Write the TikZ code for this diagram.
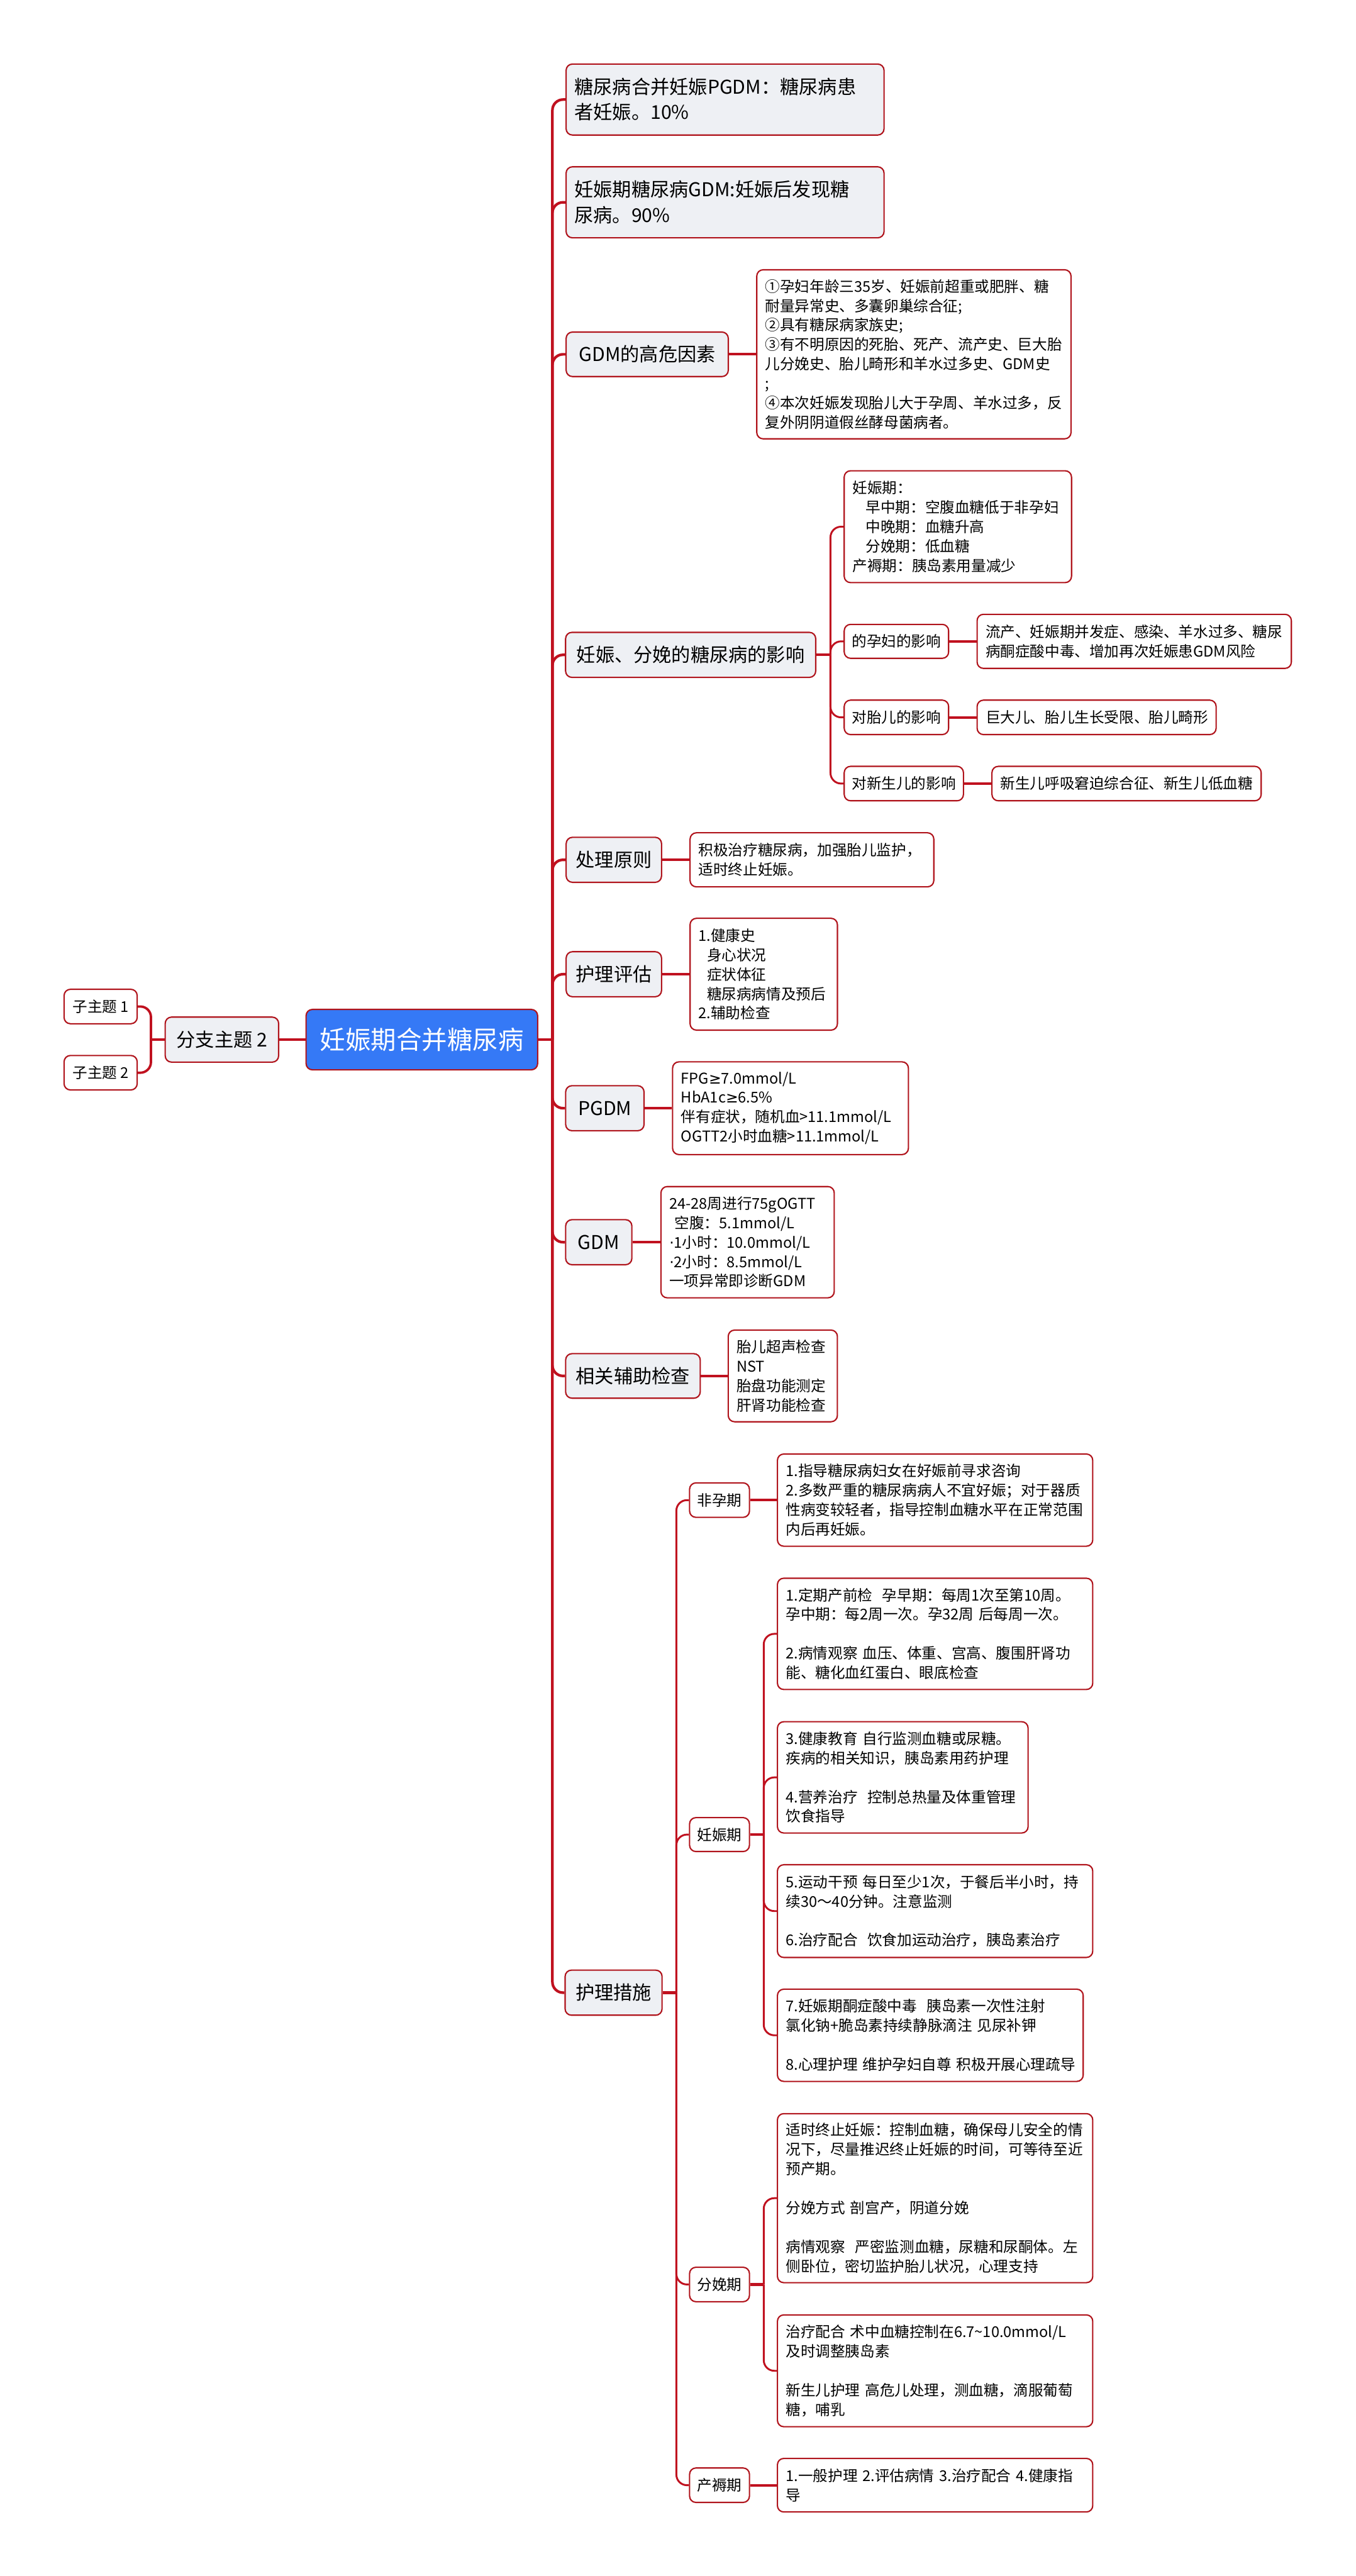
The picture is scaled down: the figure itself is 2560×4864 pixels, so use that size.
\documentclass[tikz,border=0pt]{standalone}
\usepackage{fontspec}
\setmainfont{Noto Sans CJK SC}
\newfontfamily\symfont{DejaVu Sans}
\newcommand{\mygeq}{{\symfont ≥}}
\newcommand{\mydot}{{\symfont ·}}
\definecolor{lnk}{HTML}{C0111F}
\definecolor{bdr}{HTML}{B0141C}
\definecolor{lvl}{HTML}{EEF0F4}
\definecolor{rootblue}{HTML}{3579F6}
\tikzset{
  tbox/.style={draw=bdr, line width=0.025cm, rounded corners=0.12cm, inner sep=0pt, inner xsep=0.16cm, fill=white, text=black},
  ttopic/.style={tbox, fill=lvl, font=\fontsize{10.2pt}{13.66pt}\selectfont, align=center},
  ttopicw/.style={tbox, fill=lvl, font=\fontsize{10.2pt}{13.66pt}\selectfont, align=left},
  tlab/.style={tbox, inner xsep=0.08cm, font=\fontsize{7.97pt}{10.44pt}\selectfont, align=center},
  tnote/.style={tbox, font=\fontsize{7.97pt}{10.44pt}\selectfont, align=left},
  troot/.style={tbox, fill=rootblue, text=white, font=\fontsize{13.66pt}{16pt}\selectfont, align=center},
  lk/.style={draw=lnk, line width=0.05cm},
  lks/.style={draw=lnk, line width=0.035cm, rounded corners=0.2cm},
  lkm/.style={draw=lnk, line width=0.045cm, rounded corners=0.2cm},
}
\begin{document}
\begin{tikzpicture}[x=0.01cm, y=-0.01cm]
\useasboundingbox[fill=white] (0,0) rectangle (2560,4864);

% root and left branch
\node[troot, minimum width=4.37cm, minimum height=1.14cm] (root) at (796.5,1963) {妊娠期合并糖尿病};
\node[ttopic, minimum width=2.14cm, minimum height=0.85cm] (branch) at (419,1963) {分支主题 2};
\node[tlab, font=\fontsize{7.97pt}{10pt}\selectfont, minimum width=1.38cm, minimum height=0.65cm] (sub1) at (190,1900.5) {子主题 1};
\node[tlab, font=\fontsize{7.97pt}{10pt}\selectfont, minimum width=1.38cm, minimum height=0.65cm] (sub2) at (190,2025.5) {子主题 2};

% level 1
\node[ttopicw, text width=5.68cm, minimum height=1.34cm] (n1) at (1369,188) {糖尿病合并妊娠PGDM：糖尿病患\\者妊娠。10\%};
\node[ttopicw, text width=5.68cm, minimum height=1.34cm] (n2) at (1369,382) {妊娠期糖尿病GDM:妊娠后发现糖\\尿病。90\%};
\node[ttopic, minimum width=3.06cm, minimum height=0.84cm] (n3) at (1222,669) {GDM的高危因素};
\node[ttopic, minimum width=4.72cm, minimum height=0.85cm] (n4) at (1304,1236.5) {妊娠、分娩的糖尿病的影响};
\node[ttopic, minimum width=1.80cm, minimum height=0.85cm] (n5) at (1159,1623.5) {处理原则};
\node[ttopic, minimum width=1.80cm, minimum height=0.85cm] (n6) at (1159,1839.5) {护理评估};
\node[ttopic, minimum width=1.48cm, minimum height=0.85cm] (n7) at (1142,2092.5) {PGDM};
\node[ttopic, minimum width=1.25cm, minimum height=0.85cm] (n8) at (1130.5,2345.5) {GDM};
\node[ttopic, minimum width=2.54cm, minimum height=0.84cm] (n9) at (1195,2598) {相关辅助检查};
\node[ttopic, minimum width=1.83cm, minimum height=0.85cm] (n10) at (1158.5,3762.5) {护理措施};

% children of level 1
\node[tnote, text width=5.61cm, minimum height=3.19cm] (c3) at (1725.5,669) {①孕妇年龄三35岁、妊娠前超重或肥胖、糖\\耐量异常史、多囊卵巢综合征;\\②具有糖尿病家族史;\\③有不明原因的死胎、死产、流产史、巨大胎\\儿分娩史、胎儿畸形和羊水过多史、GDM史\\;\\④本次妊娠发现胎儿大于孕周、羊水过多，反\\复外阴阴道假丝酵母菌病者。};

\node[tnote, text width=3.97cm, minimum height=2.11cm] (c4a) at (1808.5,994.5) {妊娠期：\\\hspace*{0.25cm}早中期：空腹血糖低于非孕妇\\\hspace*{0.25cm}中晚期：血糖升高\\\hspace*{0.25cm}分娩期：低血糖\\产褥期：胰岛素用量减少};
\node[tlab, minimum width=1.97cm, minimum height=0.64cm] (c4b) at (1692.5,1211) {的孕妇的影响};
\node[tnote, text width=5.61cm, minimum height=1.02cm] (c4bc) at (2141.5,1211) {流产、妊娠期并发症、感染、羊水过多、糖尿\\病酮症酸中毒、增加再次妊娠患GDM风险};
\node[tlab, minimum width=1.97cm, minimum height=0.65cm] (c4c) at (1692.5,1354.5) {对胎儿的影响};
\node[tnote, text width=4.19cm, minimum height=0.65cm] (c4cc) at (2070.5,1354.5) {巨大儿、胎儿生长受限、胎儿畸形};
\node[tlab, minimum width=2.25cm, minimum height=0.65cm] (c4d) at (1706.5,1479.5) {对新生儿的影响};
\node[tnote, text width=4.76cm, minimum height=0.65cm] (c4dc) at (2127,1479.5) {新生儿呼吸窘迫综合征、新生儿低血糖};

\node[tnote, text width=4.28cm, minimum height=1.02cm] (c5) at (1533,1623.5) {积极治疗糖尿病，加强胎儿监护，\\适时终止妊娠。};
\node[tnote, text width=2.46cm, minimum height=2.11cm] (c6) at (1442,1839.5) {1.健康史\\\hspace*{0.16cm}身心状况\\\hspace*{0.16cm}症状体征\\\hspace*{0.16cm}糖尿病病情及预后\\2.辅助检查};
\node[tnote, text width=4.13cm, minimum height=1.75cm] (c7) at (1492.5,2092.5) {FPG\mygeq7.0mmol/L\\HbA1c\mygeq6.5\%\\伴有症状，随机血>11.1mmol/L\\OGTT2小时血糖>11.1mmol/L};
\node[tnote, text width=2.95cm, minimum height=2.10cm] (c8) at (1411.5,2345.5) {24-28周进行75gOGTT\\\hspace*{0.1cm}空腹：5.1mmol/L\\\mydot 1小时：10.0mmol/L\\\mydot 2小时：8.5mmol/L\\一项异常即诊断GDM};
\node[tnote, text width=1.74cm, minimum height=1.73cm] (c9) at (1478,2598) {胎儿超声检查\\NST\\胎盘功能测定\\肝肾功能检查};

% 护理措施 sub tree
\node[tlab, minimum width=1.13cm, minimum height=0.65cm] (d1) at (1358.5,2832.5) {非孕期};
\node[tnote, text width=5.63cm, minimum height=1.74cm] (d1c) at (1765.5,2832.5) {1.指导糖尿病妇女在好娠前寻求咨询\\2.多数严重的糖尿病病人不宜好娠；对于器质\\性病变较轻者，指导控制血糖水平在正常范围\\内后再妊娠。};
\node[tlab, minimum width=1.13cm, minimum height=0.64cm] (d2) at (1358.5,3464) {妊娠期};
\node[tnote, text width=5.63cm, minimum height=2.10cm] (e1) at (1765.5,3085) {1.定期产前检~~孕早期：每周1次至第10周。\\孕中期：每2周一次。孕32周~后每周一次。\\~\\2.病情观察~血压、体重、宫高、腹围肝肾功\\能、糖化血红蛋白、眼底检查};
\node[tnote, text width=4.41cm, minimum height=2.10cm] (e2) at (1704.5,3356) {3.健康教育~自行监测血糖或尿糖。\\疾病的相关知识，胰岛素用药护理\\~\\4.营养治疗~~控制总热量及体重管理\\饮食指导};
\node[tnote, text width=5.63cm, minimum height=1.75cm] (e3) at (1765.5,3608.5) {5.运动干预~每日至少1次，于餐后半小时，持\\续30～40分钟。注意监测\\~\\6.治疗配合~~饮食加运动治疗，胰岛素治疗};
\node[tnote, text width=5.45cm, minimum height=1.74cm] (e4) at (1756.5,3843) {7.妊娠期酮症酸中毒~~胰岛素一次性注射\\氯化钠+脆岛素持续静脉滴注~见尿补钾\\~\\8.心理护理~维护孕妇自尊~积极开展心理疏导};
\node[tlab, minimum width=1.13cm, minimum height=0.65cm] (d3) at (1358.5,4313.5) {分娩期};
\node[tnote, text width=5.63cm, minimum height=3.19cm] (e5) at (1765.5,4150.5) {适时终止妊娠：控制血糖，确保母儿安全的情\\况下，尽量推迟终止妊娠的时间，可等待至近\\预产期。\\~\\分娩方式~剖宫产，阴道分娩\\~\\病情观察~~严密监测血糖，尿糖和尿酮体。左\\侧卧位，密切监护胎儿状况，心理支持};
\node[tnote, text width=5.63cm, minimum height=2.11cm] (e6) at (1765.5,4476.5) {治疗配合~术中血糖控制在6.7\textasciitilde 10.0mmol/L\\及时调整胰岛素\\~\\新生儿护理~高危儿处理，测血糖，滴服葡萄\\糖，哺乳};
\node[tlab, minimum width=1.13cm, minimum height=0.65cm] (d4) at (1358.5,4692.5) {产褥期};
\node[tnote, text width=5.63cm, minimum height=1.01cm] (e7) at (1765.5,4692.5) {1.一般护理~2.评估病情~3.治疗配合~4.健康指\\导};

% junctions
\coordinate (jR) at (1043,1963);
\coordinate (jL) at (285,1963);
\coordinate (j4) at (1568,1236.5);
\coordinate (j10) at (1277,3762.5);
\coordinate (jd2) at (1442,3464);
\coordinate (jd3) at (1442,4313.5);

% connectors
\draw[lk] (branch.east) -- (root.west);
\draw[lk] (branch.west) -- (jL);
\draw[lkm] (jL) |- (sub1.east);
\draw[lkm] (jL) |- (sub2.east);
\draw[lk] (root.east) -- (jR);
\foreach \t in {n1,n2,n3,n4,n5,n6,n7,n8,n9,n10}{
  \draw[lk, rounded corners=0.2cm] (jR) |- (\t.west);
}
\draw[lk] (n3.east) -- (c3.west);
\draw[lk] (n4.east) -- (j4);
\foreach \t in {c4a,c4b,c4c,c4d}{
  \draw[lks] (j4) |- (\t.west);
}
\draw[lk] (c4b.east) -- (c4bc.west);
\draw[lk] (c4c.east) -- (c4cc.west);
\draw[lk] (c4d.east) -- (c4dc.west);
\draw[lk] (n5.east) -- (c5.west);
\draw[lk] (n6.east) -- (c6.west);
\draw[lk] (n7.east) -- (c7.west);
\draw[lk] (n8.east) -- (c8.west);
\draw[lk] (n9.east) -- (c9.west);
\draw[lk] (n10.east) -- (j10);
\foreach \t in {d1,d2,d3,d4}{
  \draw[lks] (j10) |- (\t.west);
}
\draw[lk] (d1.east) -- (d1c.west);
\draw[lk] (d2.east) -- (jd2);
\foreach \t in {e1,e2,e3,e4}{
  \draw[lks] (jd2) |- (\t.west);
}
\draw[lk] (d3.east) -- (jd3);
\foreach \t in {e5,e6}{
  \draw[lks] (jd3) |- (\t.west);
}
\draw[lk] (d4.east) -- (e7.west);
\end{tikzpicture}
\end{document}
